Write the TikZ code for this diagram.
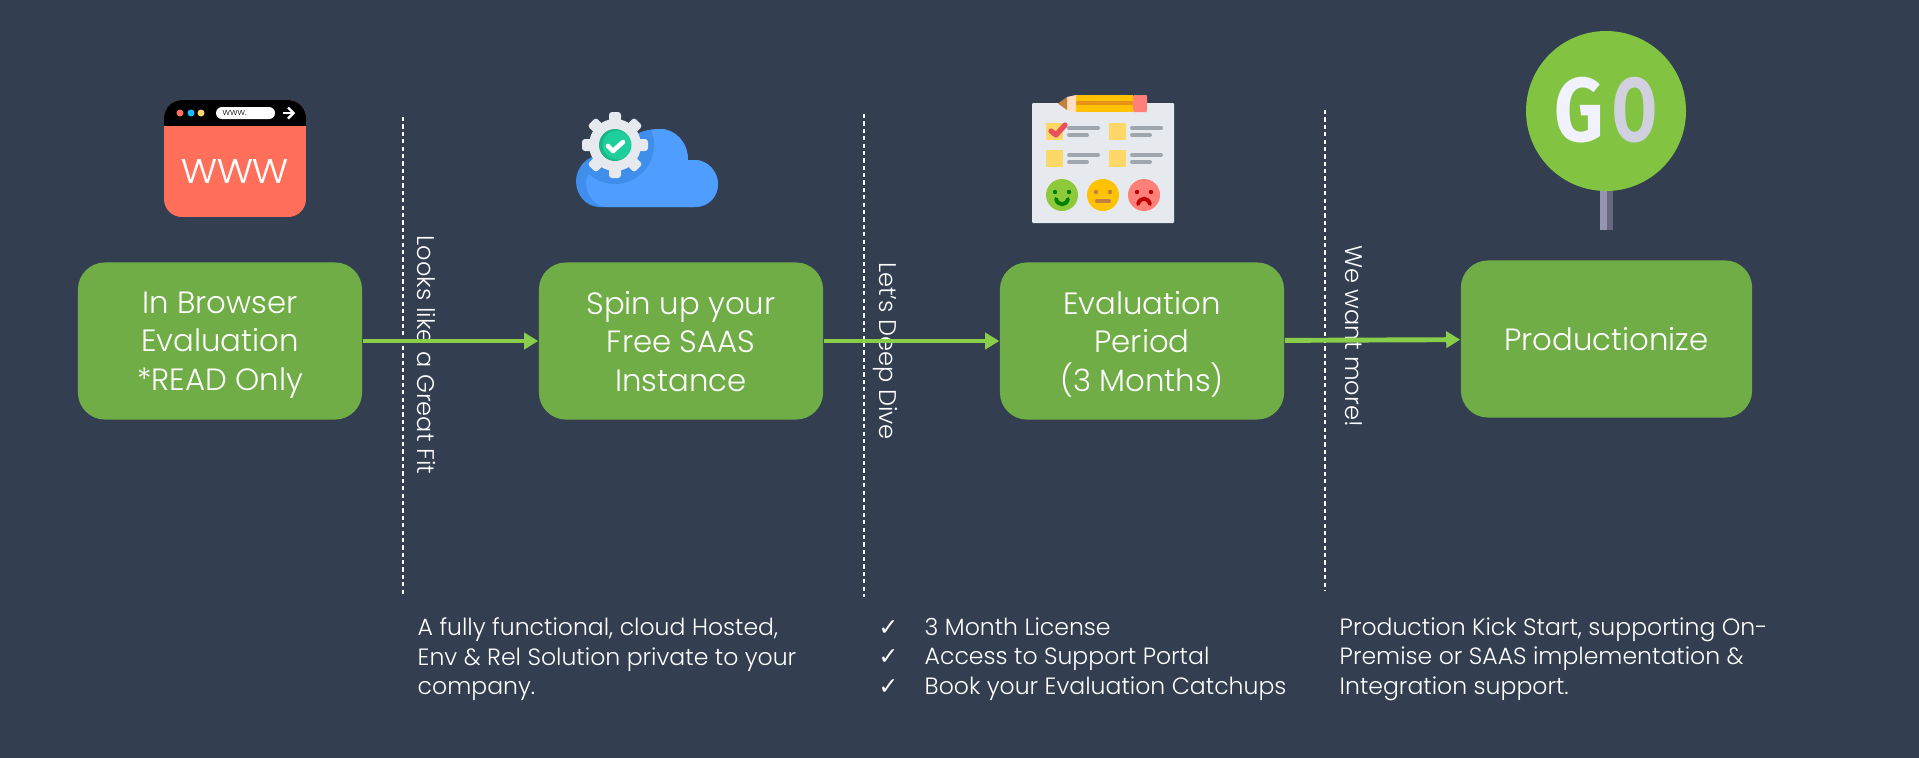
\documentclass[tikz,border=0pt]{standalone}
\usepackage[HTML]{xcolor}
\usepackage{fontspec}
\setmainfont{Poppins Light}
\newfontfamily\goFont{Fira Sans}
\newfontfamily\tickFont{DejaVu Sans}
\usepackage{tikz}
\usetikzlibrary{positioning, arrows, arrows.meta}
\definecolor{slateBg}{HTML}{333F50}
\definecolor{boxGreen}{HTML}{70AD47}
\definecolor{arrowGreen}{HTML}{88CE4B}
\definecolor{goGreen}{HTML}{82C341}
\definecolor{cloudBlue}{HTML}{4F9DFF}
\definecolor{cloudDark}{HTML}{3F8EEB}
\definecolor{coral}{HTML}{FF6F59}
\definecolor{paper}{HTML}{E6E9EE}
\definecolor{barGrey}{HTML}{A0A6AD}
\definecolor{tickYellow}{HTML}{FDD868}
\definecolor{pencilYellow}{HTML}{FFC200}
\definecolor{checkRed}{HTML}{E9505A}
\definecolor{facePink}{HTML}{FF8078}
\definecolor{gearTeal}{HTML}{1FCF9B}
\definecolor{gearShade}{HTML}{19B585}
\definecolor{goGrey}{HTML}{D0D0DE}
\newcommand{\chk}{\makebox[0.46cm][l]{\tickFont\char"2713}}

\begin{document}
\begin{tikzpicture}[x=0.01cm, y=-0.01cm,
  stepbox/.style={fill=boxGreen,rounded corners=0.27cm,text=white,align=center,
    font=\fontsize{8.75}{10.95}\selectfont,minimum height=1.57cm,text depth=0pt},
  gate/.style={white,dash pattern=on 1.2pt off 0.9pt,line width=0.3pt},
  flow/.style={arrowGreen,line width=1.4pt,-{Triangle[length=0.14cm,width=0.16cm]}},
  sidenote/.style={text=white,rotate=-90,font=\fontsize{6.85}{9}\selectfont},
  blurb/.style={text=white,anchor=north west,align=left,inner sep=0pt,
    font=\fontsize{6.7}{8.4}\selectfont},
  bar/.style={barGrey,line width=1.1pt,line cap=round},
  face/.style={line width=1.1pt,line cap=round}]
\useasboundingbox (0,0) rectangle (1919,757);
\fill[slateBg] (-3,-3) rectangle (1922,760);

% Browser icon
\begin{scope}
\clip[rounded corners=0.18cm] (164,100) rectangle (306,217);
\fill[coral] (164,100) rectangle (306,217);
\fill[black] (164,100) rectangle (306,126);
\end{scope}
\fill[coral] (180,113) circle (3.5);
\fill[cyan!70!blue!90] (191,113) circle (3.5);
\fill[tickYellow] (201,113) circle (3.5);
\fill[white,rounded corners=0.06cm] (216,107) rectangle (275,119);
\node[text=black,anchor=west,inner sep=0pt,font=\fontsize{2.6}{3}\selectfont] (urlText) at (222,113) {www.};
\draw[white,line width=0.7pt] (283,113) -- (293,113);
\draw[white,line width=0.7pt] (288,107.5) -- (293.5,113) -- (288,118.5);
\node[text=white,font=\fontsize{12.5}{14}\selectfont] (wwwText) at (235,171) {www};

% Cloud icon
\begin{scope}
\clip (600,207) .. controls (586,207) and (576,195) .. (576,181)
  .. controls (576,167) and (588,155) .. (602,155) -- (630,138)
  .. controls (638,132) and (650,129) .. (660,129)
  .. controls (676,129) and (688,143) .. (688,160) -- (695,160)
  .. controls (708,160) and (718,172) .. (718,184)
  .. controls (718,197) and (708,207) .. (695,207) -- cycle;
\fill[cloudDark] (570,120) rectangle (720,210);
\fill[cloudBlue] (608,207) .. controls (594,207) and (586,195) .. (586,181)
  -- (602,130) -- (720,125) -- (720,210) -- cycle;
\fill[cloudDark] (615,145) circle (39);
\end{scope}
\foreach \a in {0,45,...,315}
  \fill[paper,rotate around={\a:(615,145)},rounded corners=0.03cm] (609,112) rectangle (621,130);
\fill[paper] (615,145) circle (26);
\fill[gearShade] (615,145) circle (16);
\fill[gearTeal] (617,145) circle (14.5);
\draw[white,line width=1.3pt,line cap=round,line join=round] (608,146) -- (613,151) -- (623,142);

% Checklist icon
\fill[paper,rounded corners=0.01cm] (1032,103) rectangle (1174,223);
\fill[pencilYellow] (1076,95) rectangle (1133,112);
\fill[orange!50!brown!70!pencilYellow] (1076,101) rectangle (1133,105);
\fill[facePink,rounded corners=0.01cm] (1133,95) rectangle (1147,112);
\fill[orange!25!white] (1067,97) -- (1076,95) -- (1076,112) -- (1067,110) -- cycle;
\fill[brown] (1058,103.5) -- (1067,97) -- (1067,110) -- cycle;
\foreach \bx/\by in {1046/123,1109/123,1046/150,1109/150}{
  \fill[tickYellow] (\bx,\by) rectangle ++(17,17);
  \draw[bar] (\bx+23,\by+5) -- ++(29,0);
  \draw[bar] (\bx+23,\by+12) -- ++(18,0);
}
\draw[checkRed,line width=1.5pt,line cap=round,line join=round] (1051,131) -- (1056,135) -- (1065,125);
\fill[goGreen!90!yellow] (1062,195) circle (16);
\fill[pencilYellow] (1103,195) circle (16);
\fill[facePink] (1144,195) circle (16);
\fill[green!50!black] (1055,192) circle (2.2) (1069,192) circle (2.2);
\draw[green!50!black,face] (1056,199) .. controls (1058,206) and (1066,206) .. (1068,199);
\fill[brown] (1096,192) circle (2.2) (1110,192) circle (2.2);
\draw[brown,face] (1097,201) -- (1109,201);
\fill[red!75!black] (1137,192) circle (2.2) (1151,192) circle (2.2);
\draw[red!75!black,face] (1138,204) .. controls (1140,197) and (1148,197) .. (1150,204);

% Go sign
\fill[black!35!white!90!blue] (1600,185) rectangle (1607,230);
\fill[black!55!white!90!blue] (1607,185) rectangle (1613,230);
\fill[goGreen] (1606,111) circle (80);
\node[font=\goFont\bfseries\fontsize{23}{25}\selectfont] (goText) at (1606,110)
  {\textcolor{white!95!blue}{\scalebox{0.95}[1.12]{G}}\hspace{0.08cm}\textcolor{goGrey}{\scalebox{0.8}[1.12]{O}}};

% Gates and their notes
\draw[gate] (403,117) -- (403,597);
\draw[gate] (864,114) -- (864,597);
\draw[gate] (1325,110) -- (1325,591);
\node[sidenote] (fitNote) at (426,355) {Looks like a Great Fit};
\node[sidenote] (diveNote) at (885,351) {Let's Deep Dive};
\node[sidenote] (moreNote) at (1354,336) {We want more!};

% Steps
\node[stepbox,minimum width=2.84cm] (browser) at (220,341) {In Browser\\Evaluation\\*READ Only};
\node[stepbox,minimum width=2.84cm] (saas) at (681,341) {Spin up your\\Free SAAS\\Instance};
\node[stepbox,minimum width=2.84cm] (period) at (1142,341) {Evaluation\\Period\\(3 Months)};
\node[stepbox,minimum width=2.91cm] (prod) at (1606.5,339) {Productionize};
\draw[flow] (browser) -- (saas);
\draw[flow] (saas) -- (period);
\draw[flow] (period) -- (prod);

% Bottom texts
\node[blurb] (fitText) at (417,617) {A fully functional, cloud Hosted,\\Env \& Rel Solution private to your\\company.};
\node[blurb] (diveText) at (878,617) {\chk 3 Month License\\\chk Access to Support Portal\\\chk Book your Evaluation Catchups};
\node[blurb] (moreText) at (1339,617) {Production Kick Start, supporting On-\\Premise or SAAS implementation \&\\Integration support.};
\end{tikzpicture}
\end{document}
